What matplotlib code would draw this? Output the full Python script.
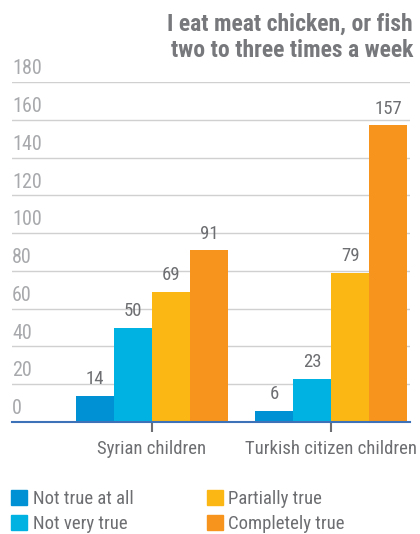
import matplotlib
matplotlib.use("Agg")
import matplotlib.pyplot as plt
from matplotlib.patches import Patch
import numpy as np

groups = ["Syrian children", "Turkish citizen children"]
series = ["Not true at all", "Not very true", "Partially true", "Completely true"]
not_true = [14, 6]
not_very = [50, 23]
partially = [69, 79]
completely = [91, 157]
y_ticks = [0, 20, 40, 60, 80, 100, 120, 140, 160, 180]

colors = ["#0091d5", "#00b2e2", "#fbb714", "#f7941d"]
grey = "#6d6e71"
plt.rcParams["font.family"] = ["Roboto Condensed", "Roboto", "DejaVu Sans"]

fig = plt.figure(figsize=(4.2, 5.34), dpi=100)
ax = fig.add_axes([12 / 420, 1 - 422 / 534, 398 / 420, 340 / 534])

values = [not_true, not_very, partially, completely]
x = np.arange(len(groups))
w = 0.212
for i, (vals, c) in enumerate(zip(values, colors)):
    pos = x + (i - 1.5) * w
    ax.bar(pos, vals, width=w, color=c, zorder=2)
    for p, v in zip(pos, vals):
        ax.text(p, v + 4, str(v), ha="center", va="bottom", fontsize=13.5, color=grey)

ax.set_xlim(-0.78, 1.44)
ax.set_ylim(0, 180)
ax.set_yticks(y_ticks)
ax.yaxis.grid(True, color="#d0d0d0", linewidth=1, zorder=0)
ax.tick_params(axis="y", length=0, labelleft=False)
for t in y_ticks:
    ax.text(-0.78, t + 2, str(t), ha="left", va="bottom", fontsize=14.5, color="#a7a9ac")

ax.set_xticks(x)
ax.set_xticklabels(groups, fontsize=13.5, color=grey)
ax.tick_params(axis="x", length=7, width=1.5, color=grey, pad=6)
for s in ["top", "right", "left"]:
    ax.spines[s].set_visible(False)
ax.spines["bottom"].set_color("#3d72b8")
ax.spines["bottom"].set_linewidth(1.5)

fig.text(413 / 420, 1 - 13 / 534, "I eat meat chicken, or fish\ntwo to three times a week",
         ha="right", va="top", fontsize=17, fontweight="bold", color="#77787b", linespacing=1.15)

handles = [Patch(color=c, label=s) for c, s in zip(colors, series)]
fig.legend(handles=handles, ncol=2, loc="lower left", bbox_to_anchor=(0.0, -0.019),
           frameon=False, fontsize=13.5, labelcolor=grey, handlelength=0.85, handleheight=0.85,
           handletextpad=0.3, columnspacing=3.9, labelspacing=0.36, borderaxespad=0.2)

fig.savefig("out.png", dpi=100)
